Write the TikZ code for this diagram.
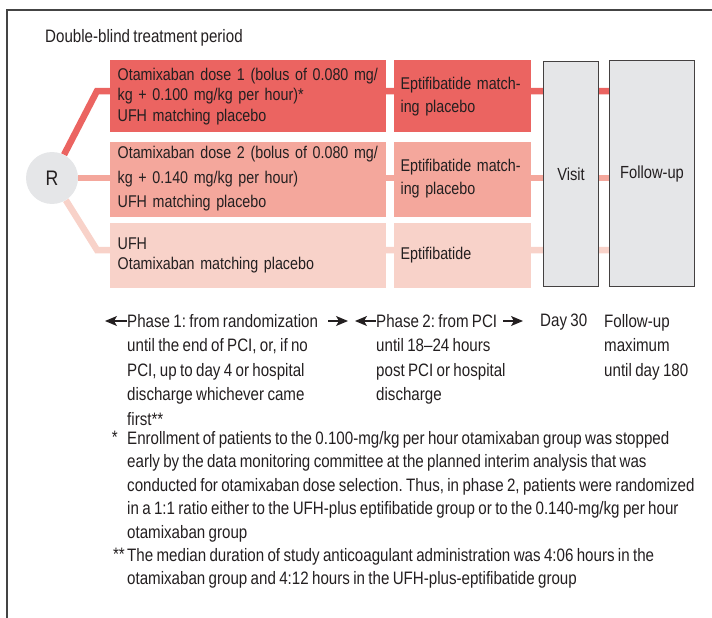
\documentclass[tikz,border=0pt]{standalone}
\usepackage{fontspec}
\setmainfont{Liberation Sans}[FakeStretch=0.84,WordSpace=0.8]
\usetikzlibrary{arrows.meta,positioning,backgrounds}
\definecolor{armdark}{HTML}{EB6461}
\definecolor{armmid}{HTML}{F4A79C}
\definecolor{armlight}{HTML}{F8D2C9}
\definecolor{softgray}{HTML}{E5E6E8}
\definecolor{inkgray}{HTML}{231F20}
\definecolor{framegray}{HTML}{444444}
\frenchspacing
\hyphenpenalty=10000

\begin{document}
\begin{tikzpicture}[x=1pt,y=-1pt,
    every node/.style={text=inkgray},
    arm/.style={inner ysep=0pt,align=left,font=\fontsize{17}{20.5}\selectfont},
    armwide/.style={arm,inner xsep=7.5pt,text width=261pt},
    armnarrow/.style={arm,inner xsep=7pt,text width=123pt},
    stagebox/.style={draw=inkgray!85,line width=1pt,fill=softgray,anchor=north west,font=\fontsize{17.5}{20}\selectfont},
    link/.style={line width=6.5pt},
    note/.style={anchor=north west,inner sep=0pt,align=left,font=\fontsize{18}{24.5}\selectfont},
    footnote/.style={note,font=\fontsize{18}{23.5}\selectfont},
    phasearrow/.style={-{Stealth[length=12pt,width=10pt,inset=3pt]},line width=1.2pt,inkgray}
  ]
  \useasboundingbox (0,0) rectangle (712,618);
  \draw[framegray,line width=1.3pt] (7,618) -- (7,10) -- (712,10);

  \node[anchor=north west,inner sep=0pt,font=\fontsize{18}{20}\selectfont] (title) at (45,29) {Double-blind treatment period};

  % treatment arms
  \node[armwide,fill=armdark,minimum height=72pt,anchor=north west] (d1) at (110,60)
    {Otamixaban dose 1 (bolus of 0.080 mg/\\kg + 0.100 mg/kg per hour)*\\UFH matching placebo};
  \node[armnarrow,fill=armdark,minimum height=72pt,right=7pt of d1] (e1)
    {Eptifibatide match-\\[2.5pt]ing placebo};
  \node[armwide,fill=armmid,minimum height=75pt,below=9pt of d1] (d2)
    {Otamixaban dose 2 (bolus of 0.080 mg/\\[4pt]kg + 0.140 mg/kg per hour)\\[4pt]UFH matching placebo};
  \node[armnarrow,fill=armmid,minimum height=75pt,right=7pt of d2] (e2)
    {Eptifibatide match-\\[2.5pt]ing placebo};
  \node[armwide,fill=armlight,minimum height=65pt,below=6pt of d2] (d3)
    {UFH\\Otamixaban matching placebo};
  \node[armnarrow,fill=armlight,minimum height=65pt,right=7pt of d3] (e3)
    {Eptifibatide};

  % visit and follow-up
  \node[stagebox,minimum width=55pt,minimum height=225pt] (visit) at (543,61) {Visit};
  \node[stagebox,minimum width=85pt,minimum height=226pt] (fu) at (609,60) {Follow-up};

  \node[circle,fill=softgray,minimum size=52pt,inner sep=0pt,font=\fontsize{21}{21}\selectfont] (R) at (52,178) {R};

  \coordinate (k1) at (97,91);
  \coordinate (k3) at (97,250);
  \begin{scope}[on background layer]
    \draw[link,armdark] (R) -- (k1) -- (fu.west |- k1);
    \draw[link,armmid] (R) -- (fu.west |- R);
    \draw[link,armlight] (R) -- (k3) -- (fu.west |- k3);
  \end{scope}

  % phases
  \node[note] (ph1) at (127,314) {Phase 1: from randomization\\until the end of PCI, or, if no\\PCI, up to day 4 or hospital\\discharge whichever came\\first**};
  \node[note] (ph2) at (376,314) {Phase 2: from PCI\\until 18–24 hours\\post PCI or hospital\\discharge};
  \node[note] (day) at (540,314) {Day 30};
  \node[note] (fup) at (604,314) {Follow-up\\maximum\\until day 180};
  \draw[phasearrow] ([yshift=-7pt]ph1.north west) -- ++(-22,0);
  \draw[phasearrow] ([xshift=201pt,yshift=-7pt]ph1.north west) -- ++(20,0);
  \draw[phasearrow] ([yshift=-7pt]ph2.north west) -- ++(-21,0);
  \draw[phasearrow] ([xshift=127pt,yshift=-7pt]ph2.north west) -- ++(20,0);

  % footnotes
  \node[footnote] (fn1) at (127,431) {Enrollment of patients to the 0.100-mg/kg per hour otamixaban group was stopped\\early by the data monitoring committee at the planned interim analysis that was\\conducted for otamixaban dose selection. Thus, in phase 2, patients were randomized\\in a 1:1 ratio either to the UFH-plus eptifibatide group or to the 0.140-mg/kg per hour\\otamixaban group};
  \node[footnote,anchor=north east,xshift=-9pt] (fm1) at (fn1.north west) {*};
  \node[footnote] (fn2) at (127,548) {The median duration of study anticoagulant administration was 4:06 hours in the\\otamixaban group and 4:12 hours in the UFH-plus-eptifibatide group};
  \node[footnote,anchor=north east,xshift=-2pt] (fm2) at (fn2.north west) {**};
\end{tikzpicture}
\end{document}
